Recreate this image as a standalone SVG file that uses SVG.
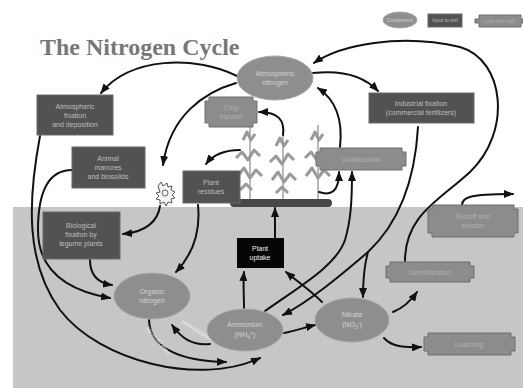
<svg xmlns="http://www.w3.org/2000/svg" width="523" height="388" viewBox="0 0 523 388">
  <style>
    .comp { fill: #8e8e8e; stroke: #a6a6a6; stroke-width: 1; }
    .input { fill: #525252; stroke: #6a6a6a; stroke-width: 1; }
    .loss { fill: #8c8c8c; stroke: #6e6e6e; stroke-width: 1; }
    .lbl { font-family: "Liberation Sans", Arial, sans-serif; font-size: 7px; text-anchor: middle; }
    .lc { fill: #d2d2d2; }
    .li { fill: #bdbdbd; }
    .ll { fill: #b0b0b0; }
    .conn path { fill: none; stroke: #111; stroke-width: 2; stroke-linecap: round; }
    .arr { marker-end: url(#head); }
    .leaf { fill: none; stroke: #9a9a9a; stroke-width: 3; stroke-linejoin: round; }
    .stalk { stroke: #8a8a8a; stroke-width: 1.2; }
  </style>
  <defs>
    <marker id="head" markerWidth="10" markerHeight="8" refX="9" refY="4" orient="auto" markerUnits="userSpaceOnUse">
      <path d="M0,0 L10,4 L0,8 Z" fill="#111"/>
    </marker>
  </defs>

  <!-- sky and soil -->
  <rect x="0" y="0" width="523" height="388" fill="#ffffff"/>
  <rect x="13" y="207" width="510" height="181" fill="#c6c6c6"/>

  <text x="40" y="55" font-family="Liberation Serif, Times New Roman, serif" font-size="24" font-weight="bold" fill="#777">The Nitrogen Cycle</text>

  <!-- legend -->
  <g id="legend">
    <ellipse cx="400" cy="20" rx="17" ry="8" class="comp"/>
    <text x="400" y="22" class="lbl lc" style="font-size:5px">Component</text>
    <rect x="428" y="14" width="34" height="13" class="input"/>
    <text x="445" y="22" class="lbl li" style="font-size:5px">Input to soil</text>
    <path d="M479,15 H521 V19 H523 V23 H521 V27 H479 V23 H475 V19 H479 Z" class="loss"/>
    <text x="499" y="23" class="lbl ll" style="font-size:5px">Loss from soil</text>
  </g>

  <!-- crop plants on the ground line -->
  <g id="plants">
    <line x1="250" y1="199" x2="250" y2="125" class="stalk"/>
    <line x1="283" y1="199" x2="283" y2="130" class="stalk"/>
    <line x1="318" y1="199" x2="318" y2="125" class="stalk"/>
    <polyline class="leaf" points="243,140 247,132 251,140 255,134"/>
    <polyline class="leaf" points="236,158 242,152 248,160 254,150 260,156"/>
    <polyline class="leaf" points="238,176 244,168 250,178 256,170 262,176"/>
    <polyline class="leaf" points="240,190 246,184 252,190"/>
    <polyline class="leaf" points="276,146 280,138 284,146 288,140"/>
    <polyline class="leaf" points="270,162 276,156 282,164 288,154 294,160"/>
    <polyline class="leaf" points="272,180 278,172 284,182 290,174 296,180"/>
    <polyline class="leaf" points="276,193 282,187 288,193"/>
    <polyline class="leaf" points="311,140 315,132 319,140 323,134"/>
    <polyline class="leaf" points="305,158 311,152 317,160 323,150 328,156"/>
    <polyline class="leaf" points="306,176 312,168 318,178 324,170 330,176"/>
    <rect x="230" y="199" width="102" height="8" rx="4" fill="#474747"/>
  </g>

  <!-- soil microbe -->
  <g id="microbe">
    <path d="M158,186 l3,-4 l2,4 l4,-3 l1,4 l4,-1 l-1,4 l4,2 l-3,3 l3,3 l-4,1 l1,4 l-4,-1 l-2,4 l-2,-4 l-4,2 l0,-4 l-4,-1 l3,-3 l-3,-3 l4,-1 Z" fill="#f4f4f4" stroke="#555" stroke-width="1"/>
    <circle cx="165" cy="193" r="3" fill="none" stroke="#666" stroke-width="1"/>
  </g>

  <g class="conn">
    <path class="arr" d="M237,76 C195,55 130,57 101,93"/>
    <path class="arr" d="M236,83 C205,92 170,115 163,165"/>
    <path class="arr" d="M313,73 C340,70 362,74 378,91"/>
    <path class="arr" d="M340,147 C343,120 336,100 318,88"/>
    <path class="arr" d="M405,261 C405,215 440,200 470,172 C512,132 505,60 460,47 C400,33 340,45 314,63"/>
    <path class="arr" d="M283,135 C285,120 278,112 259,112"/>
    <path class="arr" d="M319,192 C331,196 339,192 339,172"/>
    <path class="arr" d="M265,311 C300,286 336,266 345,240 C351,220 352,200 352,172"/>
    <path d="M418,127 C415,180 400,222 368,252"/>
    <path class="arr" d="M368,252 C340,276 310,301 283,315"/>
    <path class="arr" d="M368,252 C364,266 363,281 363,297"/>
    <path class="arr" d="M198,205 C201,235 191,256 176,272"/>
    <path class="arr" d="M160,206 C158,221 146,232 123,234"/>
    <path class="arr" d="M240,150 C225,150 213,155 206,164"/>
    <path class="arr" d="M40,136 C28,200 25,262 60,310 C100,362 200,386 260,358"/>
    <path class="arr" d="M72,170 C50,170 38,190 38,230 C38,272 70,291 110,298"/>
    <path class="arr" d="M90,260 C90,275 98,283 112,285"/>
    <path class="arr" d="M149,320 C150,346 176,361 226,362"/>
    <path class="arr" d="M210,344 C190,346 180,336 172,325"/>
    <path class="arr" d="M244,308 C244,295 243,285 244,272"/>
    <path class="arr" d="M322,302 C310,290 298,282 286,272"/>
    <path class="arr" d="M275,238 V208"/>
    <path class="arr" d="M284,333 C295,331 303,328 315,325"/>
    <path class="arr" d="M393,312 C403,308 410,302 417,292"/>
    <path class="arr" d="M384,338 C390,345 400,348 421,347"/>
    <path class="arr" d="M462,205 C462,197 470,194 513,194"/>
  </g>

  <!-- process labels on the organic / ammonium exchange -->
  <text class="lbl" fill="#f0f0f0" style="font-size:5.5px" transform="translate(157,342) rotate(50)">Mineralization</text>
  <text class="lbl" fill="#f0f0f0" style="font-size:5.5px" transform="translate(196,332) rotate(32)">Immobilization</text>

  <g id="atmospheric-nitrogen">
    <ellipse cx="275" cy="78" rx="38" ry="22" class="comp"/>
    <text x="275" y="76" class="lbl lc">Atmospheric</text>
    <text x="275" y="85" class="lbl lc">nitrogen</text>
  </g>

  <g id="atmospheric-fixation">
    <rect x="37" y="95" width="76" height="40" class="input"/>
    <text x="75" y="109" class="lbl li">Atmospheric</text>
    <text x="75" y="118" class="lbl li">fixation</text>
    <text x="75" y="127" class="lbl li">and deposition</text>
  </g>

  <g id="animal-manures">
    <rect x="72" y="147" width="73" height="41" class="input"/>
    <text x="108" y="161" class="lbl li">Animal</text>
    <text x="108" y="170" class="lbl li">manures</text>
    <text x="108" y="179" class="lbl li">and biosolids</text>
  </g>

  <g id="plant-residues">
    <rect x="183" y="171" width="57" height="32" class="input"/>
    <text x="211" y="185" class="lbl li">Plant</text>
    <text x="211" y="194" class="lbl li">residues</text>
  </g>

  <g id="biological-fixation">
    <rect x="43" y="212" width="77" height="47" class="input"/>
    <text x="81" y="228" class="lbl li">Biological</text>
    <text x="81" y="237" class="lbl li">fixation by</text>
    <text x="81" y="246" class="lbl li">legume plants</text>
  </g>

  <g id="industrial-fixation">
    <rect x="369" y="93" width="105" height="30" class="input"/>
    <text x="421" y="106" class="lbl li">Industrial fixation</text>
    <text x="421" y="115" class="lbl li">(commercial fertilizers)</text>
  </g>

  <g id="crop-harvest">
    <path d="M209,97 H253 V101 H257 V123 H253 V127 H209 V123 H205 V101 H209 Z" class="loss"/>
    <text x="231" y="110" class="lbl ll">Crop</text>
    <text x="231" y="119" class="lbl ll">harvest</text>
  </g>

  <g id="volatilization">
    <path d="M320,148 H402 V152 H406 V166 H402 V170 H320 V166 H316 V152 H320 Z" class="loss"/>
    <text x="361" y="162" class="lbl ll">Volatilization</text>
  </g>

  <g id="runoff-erosion">
    <path d="M432,205 H514 V209 H518 V233 H514 V237 H432 V233 H428 V209 H432 Z" class="loss"/>
    <text x="473" y="219" class="lbl ll">Runoff and</text>
    <text x="473" y="228" class="lbl ll">erosion</text>
  </g>

  <g id="denitrification">
    <path d="M390,262 H470 V266 H474 V278 H470 V282 H390 V278 H386 V266 H390 Z" class="loss"/>
    <text x="430" y="275" class="lbl ll">Denitrification</text>
  </g>

  <g id="leaching">
    <path d="M428,333 H511 V337 H515 V351 H511 V355 H428 V351 H424 V337 H428 Z" class="loss"/>
    <text x="469" y="347" class="lbl ll">Leaching</text>
  </g>

  <g id="plant-uptake">
    <rect x="237" y="238" width="47" height="30" fill="#050505"/>
    <text x="260" y="251" class="lbl" fill="#eeeeee">Plant</text>
    <text x="260" y="260" class="lbl" fill="#eeeeee">uptake</text>
  </g>

  <g id="organic-nitrogen">
    <ellipse cx="152" cy="296" rx="38" ry="23" class="comp"/>
    <text x="152" y="294" class="lbl lc">Organic</text>
    <text x="152" y="303" class="lbl lc">nitrogen</text>
  </g>

  <g id="ammonium">
    <ellipse cx="245" cy="330" rx="38" ry="21" class="comp"/>
    <text x="245" y="327" class="lbl lc">Ammonium</text>
    <text x="245" y="337" class="lbl lc">(NH<tspan font-size="5" dy="1.5">4</tspan><tspan font-size="5" dy="-4">+</tspan><tspan dy="2.5">)</tspan></text>
  </g>

  <g id="nitrate">
    <ellipse cx="352" cy="320" rx="37" ry="22" class="comp"/>
    <text x="352" y="317" class="lbl lc">Nitrate</text>
    <text x="352" y="327" class="lbl lc">(NO<tspan font-size="5" dy="1.5">3</tspan><tspan font-size="5" dy="-4">-</tspan><tspan dy="2.5">)</tspan></text>
  </g>
</svg>
